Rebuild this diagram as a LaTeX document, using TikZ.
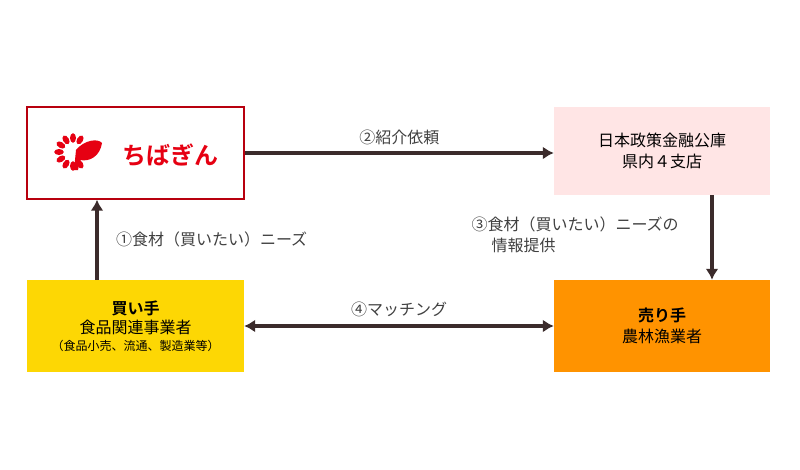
\documentclass[tikz,border=0pt]{standalone}
\usepackage{fontspec}
\setmainfont{Noto Sans CJK JP}
\newfontfamily\cjkbold{Noto Sans CJK JP Bold}
\usetikzlibrary{arrows.meta}
\usetikzlibrary{positioning}
\definecolor{arrowc}{HTML}{3B2B2B}
\definecolor{logored}{HTML}{E60012}
\begin{document}
\begin{tikzpicture}[
    x=1pt, y=-1pt,
    box/.style = {
      draw=none, minimum width=217pt, minimum height=92pt,
      align=center, inner sep=0pt, font=\fontsize{16}{21}\selectfont,
    },
    conn/.style = {arrowc, line width=3.4pt, -{Latex[length=11pt,width=13pt]}},
    lbl/.style = {font=\fontsize{16}{21}\selectfont, text=black!75, align=left},
  ]
  \useasboundingbox (0,0) rectangle (800,469);

  \node[box, draw=logored!80!black, line width=1.4pt, fill=white] (bank) at (135.5,153) {};
  \node[box, fill=red!10, minimum width=216pt, minimum height=88pt] (jfc) at (662,151)
    {日本政策金融公庫\\県内４支店};
  \node[box, fill=yellow!75!orange] (buyer) at (135.5,326)
    {{\cjkbold 買い手}\\[-2pt]食品関連事業者\\[-4pt]{\fontsize{12}{14}\selectfont（食品小売、流通、製造業等）}};
  \node[box, fill=orange!85!yellow, minimum width=216pt] (seller) at (662,326)
    {{\cjkbold 売り手}\\農林漁業者};

  % logo
  \foreach \a in {60,90,...,300}
    \fill[logored, shift={(73,152)}, rotate=\a] (14,0) ellipse [x radius=4.8, y radius=3];
  \fill[logored] (76,150) .. controls (84,140) and (98,138) .. (102,143)
    .. controls (100,156) and (90,162) .. (80,160) -- (78,170) -- (74,170) -- cycle;
  \node[text=logored, font=\cjkbold\fontsize{24}{24}\selectfont] (logo) at (170,155) {ちばぎん};

  \draw[conn] (buyer.north -| 97,0) -- (bank.south -| 97,0)
    node[lbl, midway, right=14pt] (n1) {①食材（買いたい）ニーズ};
  \draw[conn] (bank.east) -- (jfc.west |- bank.east)
    node[lbl, midway, above=3pt] (n2) {②紹介依頼};
  \draw[conn] (jfc.south -| 712,0) -- (seller.north -| 712,0);
  \node[lbl, anchor=north west] (n3) at (468,213) {③食材（買いたい）ニーズの\\\hspace*{20pt}情報提供};
  \draw[conn, {Latex[length=11pt,width=13pt]}-{Latex[length=11pt,width=13pt]}]
    (buyer.east) -- (seller.west)
    node[lbl, midway, above=4pt] (n4) {④マッチング};
\end{tikzpicture}
\end{document}
